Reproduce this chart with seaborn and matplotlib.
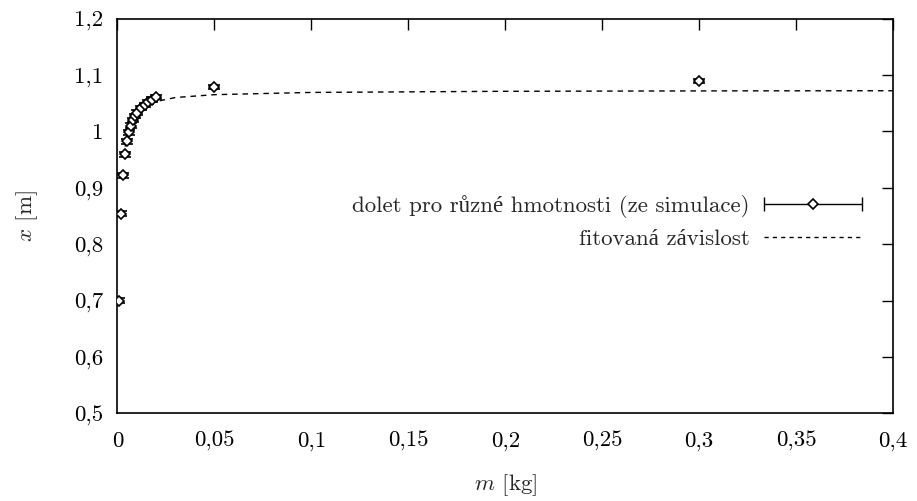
import matplotlib
matplotlib.use("Agg")
import matplotlib.pyplot as plt
import seaborn as sns
from matplotlib.lines import Line2D
from matplotlib.legend_handler import HandlerLine2D, HandlerTuple

# simulated range for different masses
mass = [0.001, 0.002, 0.003, 0.004, 0.005, 0.006, 0.007, 0.008, 0.009, 0.010,
        0.012, 0.014, 0.016, 0.018, 0.020, 0.050, 0.300]
dolet = [0.700, 0.854, 0.922, 0.959, 0.982, 0.998, 1.010, 1.020, 1.027, 1.033,
         1.041, 1.047, 1.052, 1.056, 1.061, 1.079, 1.0895]
dolet_err = [0.004] * len(mass)

# fitted curve
fit_mass = [0.004, 0.005, 0.006, 0.007, 0.008, 0.010, 0.012, 0.015, 0.020,
            0.030, 0.050, 0.100, 0.200, 0.300, 0.400]
fit_dolet = [0.973, 0.993, 1.006, 1.016, 1.023, 1.033, 1.040, 1.046, 1.053,
             1.060, 1.065, 1.069, 1.071, 1.0717, 1.072]

x_ticks = [0, 0.05, 0.1, 0.15, 0.2, 0.25, 0.3, 0.35, 0.4]
x_ticklabels = ["0", "0,05", "0,1", "0,15", "0,2", "0,25", "0,3", "0,35", "0,4"]
y_ticks = [0.5, 0.6, 0.7, 0.8, 0.9, 1.0, 1.1, 1.2]
y_ticklabels = ["0,5", "0,6", "0,7", "0,8", "0,9", "1", "1,1", "1,2"]

FS = 16.5

sns.set_theme(style="white")
plt.rcParams["font.family"] = ["cmr10", "Liberation Serif"]
plt.rcParams["mathtext.fontset"] = "cm"
plt.rcParams["axes.unicode_minus"] = False
plt.rcParams["font.size"] = FS

fig, ax = plt.subplots(figsize=(9.17, 5.01), dpi=100)
fig.subplots_adjust(left=0.128, right=0.974, bottom=0.175, top=0.963)

sns.lineplot(x=fit_mass, y=fit_dolet, ax=ax, color="black", linewidth=1,
             linestyle=(0, (4, 3.5)), zorder=2)
ax.errorbar(mass, dolet, yerr=dolet_err, fmt="D", ms=5.5, mfc="white", mec="black",
            mew=1.2, ecolor="black", elinewidth=1, capsize=4, capthick=1, zorder=3)

ax.set_xlim(0, 0.4)
ax.set_ylim(0.5, 1.2)
ax.set_xticks(x_ticks)
ax.set_xticklabels(x_ticklabels, fontsize=FS)
ax.set_yticks(y_ticks)
ax.set_yticklabels(y_ticklabels, fontsize=FS)
ax.tick_params(direction="in", length=8, width=1, top=True, right=True,
               colors="black")
ax.tick_params(axis="x", pad=13)
ax.tick_params(axis="y", pad=10)
for sp in ax.spines.values():
    sp.set_linewidth(1.2)
    sp.set_color("black")

ax.set_xlabel("$m$ [kg]", fontsize=FS)
ax.set_ylabel("$x$ [m]", fontsize=FS)
ax.xaxis.set_label_coords(0.5, -0.15)
ax.yaxis.set_label_coords(-0.10, 0.5)

# gnuplot-like legend keys
cap_line = Line2D([], [], color="black", lw=1, marker="|", ms=10, mew=1)
diamond = Line2D([], [], ls="none", marker="D", ms=5, mfc="white",
                 mec="black", mew=1.2)
fit_key = Line2D([], [], color="black", lw=1, ls=(0, (3, 3)))
ax.legend([(cap_line, diamond), fit_key],
          ["dolet pro různé hmotnosti (ze simulace)", "fitovaná závislost"],
          handler_map={cap_line: HandlerLine2D(numpoints=2, marker_pad=0),
                       diamond: HandlerLine2D(numpoints=1),
                       tuple: HandlerTuple(ndivide=1)},
          loc="center right", bbox_to_anchor=(0.96, 0.485), frameon=False,
          markerfirst=False, handlelength=4.3, handletextpad=0.6,
          labelspacing=0.45, borderaxespad=0, borderpad=0, fontsize=FS)

fig.savefig("out.png", dpi=100)
